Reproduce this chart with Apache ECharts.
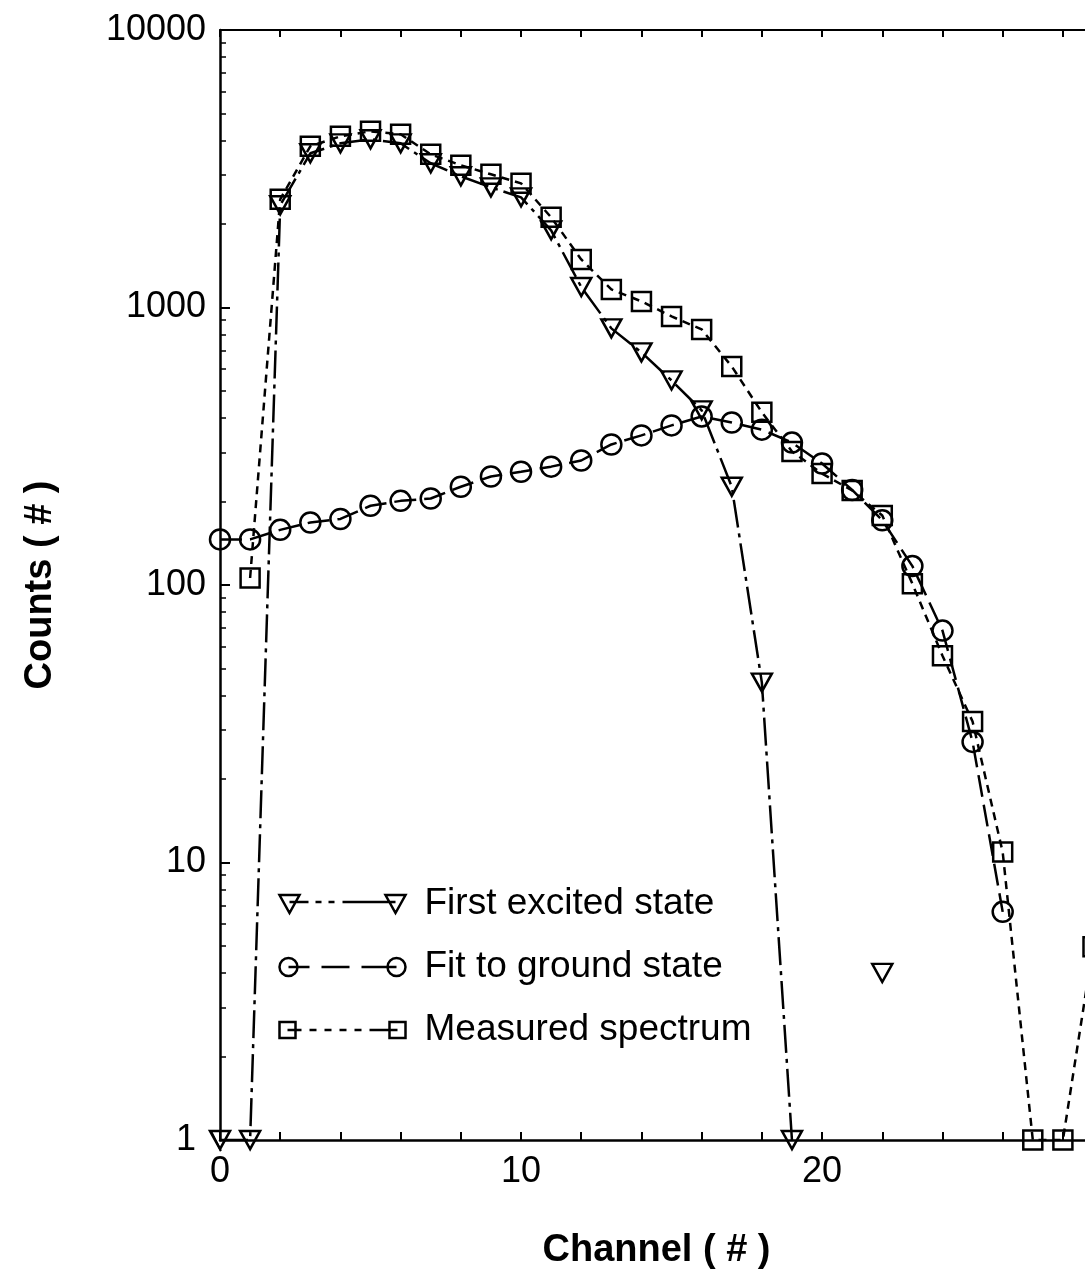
<!DOCTYPE html>
<html><head><meta charset="utf-8">
<script src="https://cdn.jsdelivr.net/npm/echarts@6/dist/echarts.min.js"></script>
<style>html,body{margin:0;padding:0;overflow:hidden;background:#fff}#c{width:1100px;height:1278px}</style>
</head><body><div id="c"></div>
<script>
// ---- data ----
const channels = [0,1,2,3,4,5,6,7,8,9,10,11,12,13,14,15,16,17,18,19,20,21,22,23,24,25,26,27,28,29];
const firstExcited = [1,1,2335,3595,3905,4040,3905,3310,2970,2710,2495,1897,1185,841,689,546,426,226,44.5,1,null,null,4.0,null,null,null,null,null,null,null];
const fitGround = [146,146,158,168,173,193,201,205,226,246,256,267,281,321,346,376,405,385,363,326,274,220,171,117,68.5,27.2,6.64,null,null,null];
const measured = [null,106,2455,3810,4140,4315,4210,3565,3255,3020,2802,2114,1490,1162,1052,929,834,613,419,303,252,219,178,101,55.6,32.2,10.9,1,1,4.97];
const seriesNames = ['First excited state','Fit to ground state','Measured spectrum'];
const xTickLabels = [0,10,20];
const yTickLabels = [1,10,100,1000,10000];
const yMinorMultipliers = [2,3,4,5,6,7,8,9];

const FONT = "'Liberation Sans', Arial, Helvetica, sans-serif";
const toPairs = arr => channels.map((c,i) => [c, arr[i] == null ? '-' : arr[i]]);

// minor log ticks expressed on a linear log10 helper axis
const minorTicks = [];
for (let d = 0; d < 4; d++) yMinorMultipliers.forEach(k => minorTicks.push(d + Math.log10(k)));

const icons = {
  tri: 'path://M0,0 L20,0 L10,18 Z M10,7 L29,7 M36,7 L42,7 M49,7 L55,7 M63,7 L116,7 M106,0 L126,0 L116,18 Z',
  circ: 'path://M0,9 A9,9 0 1,0 18,9 A9,9 0 1,0 0,9 Z M9,9 L30,9 M42,9 L70,9 M82,9 L117,9 M108,9 A9,9 0 1,0 126,9 A9,9 0 1,0 108,9 Z',
  sq: 'path://M0,1 L16,1 L16,17 L0,17 Z M8,9 L22,9 M30,9 L37,9 M45,9 L52,9 M60,9 L67,9 M75,9 L82,9 M90,9 L118,9 M110,1 L126,1 L126,17 L110,17 Z'
};

const chart = echarts.init(document.getElementById('c'), null, {renderer: 'canvas'});
const symStyle = {color: 'rgba(0,0,0,0)', borderColor: '#000', borderWidth: 2.5};
const axisLine = {show: true, lineStyle: {color: '#000', width: 2.5}};

chart.setOption({
  animation: false,
  backgroundColor: '#fff',
  textStyle: {fontFamily: FONT},
  grid: {left: 220, top: 30, right: 7, bottom: 138, containLabel: false},
  legend: {
    orient: 'vertical', left: 277, top: 884, padding: 0,
    itemWidth: 126, itemHeight: 18, itemGap: 23,
    selectedMode: false,
    itemStyle: {color: 'none', borderColor: '#000', borderWidth: 2.5},
    textStyle: {fontSize: 37, color: '#000', fontFamily: FONT, lineHeight: 40, padding: [0,0,0,14]},
    data: [
      {name: seriesNames[0], icon: icons.tri},
      {name: seriesNames[1], icon: icons.circ},
      {name: seriesNames[2], icon: icons.sq}
    ]
  },
  xAxis: [{
    type: 'value', min: 0, max: 29, interval: 2, position: 'bottom',
    axisLine: axisLine,
    axisTick: {show: true, inside: true, length: 8, lineStyle: {color: '#000', width: 2}},
    axisLabel: {fontSize: 36, color: '#000', margin: 14, fontFamily: FONT,
      formatter: v => xTickLabels.indexOf(v) >= 0 ? String(v) : ''},
    splitLine: {show: false},
    name: 'Channel ( # )', nameLocation: 'middle', nameGap: 92,
    nameTextStyle: {fontSize: 38, fontWeight: 'bold', color: '#000', fontFamily: FONT}
  }, {
    type: 'value', min: 0, max: 29, interval: 2, position: 'top',
    axisLine: {show: true, lineStyle: {color: '#000', width: 2}},
    axisTick: {show: true, inside: true, length: 7, lineStyle: {color: '#000', width: 2}},
    axisLabel: {show: false}, splitLine: {show: false}
  }],
  yAxis: [{
    type: 'log', logBase: 10, min: 1, max: 10000, position: 'left',
    axisLine: axisLine,
    axisTick: {show: true, inside: true, length: 10, lineStyle: {color: '#000', width: 2}},
    axisLabel: {fontSize: 36, color: '#000', margin: 14, fontFamily: FONT,
      formatter: v => { const r = Math.round(v); return r === yTickLabels[0] ? '{one|' + r + '}' : String(r); },
      rich: {one: {fontSize: 36, color: '#000', fontFamily: FONT, padding: [0, 10, 0, 0]}}},
    splitLine: {show: false},
    name: 'Counts ( # )', nameLocation: 'middle', nameRotate: 90, nameGap: 160,
    nameTextStyle: {fontSize: 38, fontWeight: 'bold', color: '#000', fontFamily: FONT}
  }, {
    type: 'value', min: 0, max: 4, position: 'left',
    axisLine: {show: false},
    axisTick: {show: true, inside: true, length: 6, customValues: minorTicks, lineStyle: {color: '#000', width: 1.5}},
    axisLabel: {show: false}, splitLine: {show: false}
  }],
  graphic: [{
    type: 'line', z: 100, shape: {x1: 211, y1: 1131, x2: 221, y2: 1151},
    style: {stroke: '#000', lineWidth: 1.8}
  }],
  series: [{
    name: seriesNames[0], type: 'line', data: toPairs(firstExcited),
    symbol: 'triangle', symbolRotate: 180, symbolSize: [20, 18],
    connectNulls: false,
    lineStyle: {color: '#000', width: 2.5, type: [28, 6, 4, 6]},
    itemStyle: symStyle, emphasis: {disabled: true}
  }, {
    name: seriesNames[1], type: 'line', data: toPairs(fitGround),
    symbol: 'circle', symbolSize: 20, connectNulls: false,
    lineStyle: {color: '#000', width: 2.5, type: [22, 8]},
    itemStyle: symStyle, emphasis: {disabled: true}
  }, {
    name: seriesNames[2], type: 'line', data: toPairs(measured),
    symbol: 'rect', symbolSize: 19, connectNulls: false,
    lineStyle: {color: '#000', width: 2.5, type: [8, 6]},
    itemStyle: symStyle, emphasis: {disabled: true}
  }]
});
</script></body></html>
